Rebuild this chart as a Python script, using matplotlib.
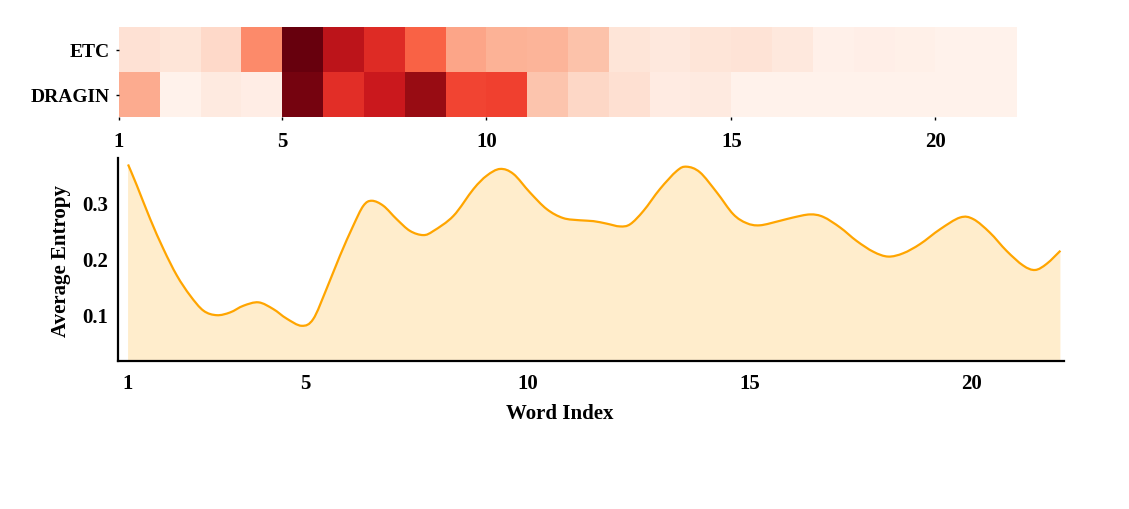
import numpy as np
import matplotlib
matplotlib.use("Agg")
import matplotlib.pyplot as plt
from matplotlib.path import Path
from matplotlib.patches import PathPatch

plt.rcParams['font.family'] = ['Liberation Serif', 'DejaVu Serif']
plt.rcParams['font.weight'] = 'bold'

# heatmap data (normalised attention per word, 22 words)
row_names = ['ETC', 'DRAGIN']
etc_vals = [0.12, 0.10, 0.15, 0.40, 1.00, 0.80, 0.68, 0.52, 0.32, 0.28, 0.27,
            0.23, 0.10, 0.08, 0.10, 0.11, 0.08, 0.03, 0.04, 0.035, 0.02, 0.02]
dragin_vals = [0.30, 0.02, 0.07, 0.05, 0.97, 0.67, 0.75, 0.90, 0.60, 0.61, 0.22,
               0.16, 0.125, 0.06, 0.07, 0.02, 0.02, 0.02, 0.02, 0.02, 0.02, 0.02]
heat_tick_pos = [0, 4, 9, 15, 20]
heat_tick_lab = ['1', '5', '10', '15', '20']

# average entropy curve, traced along the word index
word_x = [1.0, 1.2, 1.5, 1.8, 2.1, 2.4, 2.7, 3.0, 3.3, 3.6, 3.94, 4.27, 4.57,
          4.91, 5.17, 5.47, 5.77, 6.07, 6.3, 6.49, 6.75, 7.05, 7.35, 7.65,
          7.88, 8.33, 8.78, 9.08, 9.38, 9.68, 10.05, 10.43, 10.8, 11.18,
          11.48, 11.78, 12.08, 12.31, 12.61, 12.98, 13.36, 13.58, 13.88,
          14.26, 14.63, 14.93, 15.23, 15.68, 15.98, 16.36, 16.66, 17.04,
          17.41, 17.79, 18.12, 18.46, 18.84, 19.29, 19.74, 20.04, 20.41,
          20.79, 21.16, 21.43, 21.69, 22.0]
entropy = [0.368, 0.330, 0.270, 0.216, 0.169, 0.133, 0.106, 0.098, 0.103,
           0.115, 0.121, 0.109, 0.092, 0.079, 0.091, 0.145, 0.204, 0.258,
           0.294, 0.303, 0.294, 0.270, 0.249, 0.2415, 0.249, 0.276, 0.324,
           0.348, 0.360, 0.351, 0.318, 0.288, 0.272, 0.268, 0.2665, 0.262,
           0.257, 0.261, 0.285, 0.324, 0.3565, 0.364, 0.354, 0.318, 0.279,
           0.263, 0.259, 0.267, 0.273, 0.2785, 0.274, 0.255, 0.231, 0.2115,
           0.203, 0.209, 0.2255, 0.252, 0.273, 0.270, 0.246, 0.213, 0.187,
           0.179, 0.190, 0.2135]
line_ticks = [1, 5, 10, 15, 20]


def smooth_path_verts(xs, ys):
    # catmull-rom style bezier through the traced points
    pts = np.column_stack([xs, ys])
    n = len(pts)
    verts = [pts[0]]
    codes = [Path.MOVETO]
    for i in range(n - 1):
        p0 = pts[max(i - 1, 0)]
        p1 = pts[i]
        p2 = pts[i + 1]
        p3 = pts[min(i + 2, n - 1)]
        verts += [p1 + (p2 - p0) / 6, p2 - (p3 - p1) / 6, p2]
        codes += [Path.CURVE4] * 3
    return verts, codes


fig = plt.figure(figsize=(11.29, 5.10), dpi=100)

# top heatmap
ax1 = fig.add_axes([0.1054, 0.768, 0.7954, 0.1765])
data = np.array([etc_vals, dragin_vals])
ax1.pcolormesh(np.arange(len(etc_vals) + 1), np.arange(len(row_names) + 1), data,
               cmap='Reds', vmin=0, vmax=1)
ax1.set_xlim(0, len(etc_vals))
ax1.set_ylim(len(row_names), 0)
ax1.set_yticks([0.5, 1.5])
ax1.set_yticklabels(row_names, fontsize=14, fontweight='bold')
ax1.set_xticks(heat_tick_pos)
ax1.set_xticklabels(heat_tick_lab, fontsize=15, fontweight='bold')
ax1.tick_params(axis='x', length=2, width=1, pad=8)
ax1.tick_params(axis='y', length=2, width=1, pad=5)
for s in ax1.spines.values():
    s.set_visible(False)

# bottom line chart
ax2 = fig.add_axes([0.1043, 0.2908, 0.8381, 0.3968])
verts, codes = smooth_path_verts(word_x, entropy)
fill_verts = verts + [(word_x[-1], 0), (word_x[0], 0), (word_x[0], 0)]
fill_codes = codes + [Path.LINETO, Path.LINETO, Path.CLOSEPOLY]
ax2.add_patch(PathPatch(Path(fill_verts, fill_codes), facecolor='orange',
                        alpha=0.2, lw=0))
ax2.add_patch(PathPatch(Path(verts, codes), facecolor='none',
                        edgecolor='orange', lw=1.6))
ax2.set_xlim(0.768, 22.08)
ax2.set_ylim(0.0165, 0.379)
ax2.set_xticks(line_ticks)
ax2.set_yticks([0.1, 0.2, 0.3])
ax2.set_yticklabels(['0.1', '0.2', '0.3'])
ax2.tick_params(length=0, labelsize=15, pad=9)
ax2.tick_params(axis='y', pad=7)
for lab in ax2.get_xticklabels() + ax2.get_yticklabels():
    lab.set_fontweight('bold')
ax2.spines['top'].set_visible(False)
ax2.spines['right'].set_visible(False)
ax2.spines['left'].set_linewidth(1.6)
ax2.spines['bottom'].set_linewidth(1.6)
ax2.set_ylabel('Average Entropy', fontsize=15, fontweight='bold', labelpad=8)
fig.text(560 / 1129, 1 - 414 / 510, 'Word Index', fontsize=15,
         fontweight='bold', ha='center', va='center')

fig.savefig('out.png', dpi=100)
